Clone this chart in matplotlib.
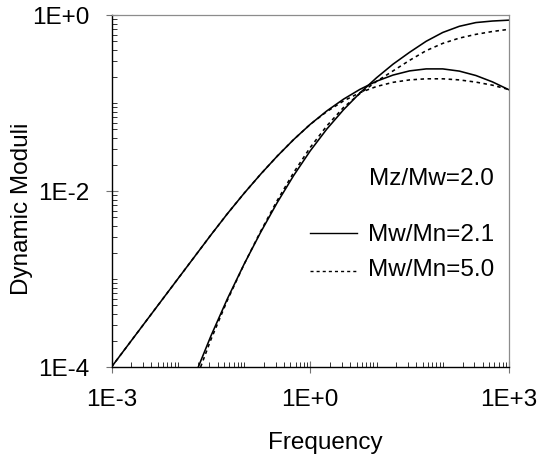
import numpy as np
import matplotlib
matplotlib.use("Agg")
import matplotlib.pyplot as plt
from matplotlib.ticker import LogLocator, FixedLocator, NullFormatter

plt.rcParams['font.family'] = ['Liberation Sans', 'DejaVu Sans']

# ---- data (log10 of frequency / modulus) ----
loss_narrow_logw = [-3.0, -2.5, -2.0, -1.75, -1.5, -1.25, -1.0, -0.75, -0.5, -0.25, 0.0, 0.25, 0.5,
                    0.75, 1.0, 1.25, 1.5, 1.75, 2.0, 2.25, 2.5, 2.75, 3.0]
loss_narrow_logG = [-4.0, -3.5, -3.0, -2.75, -2.5, -2.2575, -2.0275, -1.81, -1.605, -1.415, -1.2425,
                    -1.09, -0.9575, -0.845, -0.7525, -0.6825, -0.635, -0.6125, -0.6125, -0.6375,
                    -0.6875, -0.76, -0.85]

loss_broad_logw = [-3.0, -2.5, -2.0, -1.75, -1.5, -1.25, -1.0, -0.75, -0.5, -0.25, 0.0, 0.25, 0.5,
                   0.75, 1.0, 1.25, 1.5, 1.75, 2.0, 2.25, 2.5, 2.75, 3.0]
loss_broad_logG = [-4.0, -3.5, -3.0, -2.75, -2.5, -2.2575, -2.0275, -1.81, -1.605, -1.415, -1.2425,
                   -1.0975, -0.9775, -0.8825, -0.8125, -0.765, -0.7375, -0.725, -0.725, -0.7375,
                   -0.7625, -0.7975, -0.8475]

stor_narrow_logw = [-1.69, -1.5, -1.25, -1.0, -0.75, -0.5, -0.25, 0.0, 0.25, 0.5, 0.75, 1.0,
                    1.25, 1.5, 1.75, 2.0, 2.25, 2.5, 2.75, 3.0]
stor_narrow_logG = [-4.0, -3.6485, -3.2235, -2.8335, -2.471, -2.1335, -1.8235, -1.5435, -1.296,
                    -1.0785, -0.886, -0.7135, -0.5585, -0.4235, -0.2985, -0.1985, -0.1285, -0.086,
                    -0.0685, -0.0585]

stor_broad_logw = [-1.655, -1.5, -1.25, -1.0, -0.75, -0.5, -0.25, 0.0, 0.25, 0.5, 0.75, 1.0,
                   1.25, 1.5, 1.75, 2.0, 2.25, 2.5, 2.75, 3.0]
stor_broad_logG = [-4.0, -3.69, -3.24, -2.835, -2.46, -2.11, -1.79, -1.505, -1.26, -1.0525, -0.8925,
                   -0.755, -0.635, -0.515, -0.405, -0.3225, -0.2625, -0.22, -0.1875, -0.1625]

x_ticks = [1e-3, 1e0, 1e3]
x_ticklabels = ['1E-3', '1E+0', '1E+3']
y_ticks = [1e-4, 1e-2, 1e0]
y_ticklabels = ['1E-4', '1E-2', '1E+0']

header_text = 'Mz/Mw=2.0'
series_labels = ['Mw/Mn=2.1', 'Mw/Mn=5.0']

# ---- figure ----
W, H = 541, 466
fig = plt.figure(figsize=(W / 100, H / 100), dpi=100)
L, R, T, B = 111.5, 509, 15, 367
ax = fig.add_axes([L / W, 1 - B / H, (R - L) / W, (B - T) / H])

lw = 1.15
dash = (0, (2.2, 2.2))
ax.plot(10 ** np.array(loss_narrow_logw), 10 ** np.array(loss_narrow_logG), color='black', lw=lw)
ax.plot(10 ** np.array(stor_narrow_logw), 10 ** np.array(stor_narrow_logG), color='black', lw=lw)
ax.plot(10 ** np.array(loss_broad_logw), 10 ** np.array(loss_broad_logG), color='black', lw=lw,
        linestyle=dash)
ax.plot(10 ** np.array(stor_broad_logw), 10 ** np.array(stor_broad_logG), color='black', lw=lw,
        linestyle=dash)

ax.set_xscale('log')
ax.set_yscale('log')
ax.set_xlim(1e-3, 1e3)
ax.set_ylim(1e-4, 1e0)

fs = 17.5
ax.xaxis.set_major_locator(FixedLocator(x_ticks))
ax.set_xticklabels(x_ticklabels)
ax.yaxis.set_major_locator(FixedLocator(y_ticks))
ax.set_yticklabels(y_ticklabels)
ax.xaxis.set_minor_locator(LogLocator(base=10, subs=np.arange(1, 10), numticks=50))
ax.yaxis.set_minor_locator(LogLocator(base=10, subs=np.arange(1, 10), numticks=50))
ax.xaxis.set_minor_formatter(NullFormatter())
ax.yaxis.set_minor_formatter(NullFormatter())

ax.tick_params(which='major', direction='inout', length=9, width=0.8, color='0.45',
               labelsize=fs, pad=11.5, top=False, right=False)
ax.tick_params(which='minor', direction='in', length=3.5, width=0.7, color='0.2',
               top=False, right=False)

for s in ['left', 'bottom']:
    ax.spines[s].set_color('black')
    ax.spines[s].set_linewidth(1.0)
for s in ['top', 'right']:
    ax.spines[s].set_color('0.55')
    ax.spines[s].set_linewidth(0.9)

# annotation / key
def axx(px):
    return (px - L) / (R - L)

def axy(py):
    return (B - py) / (B - T)

ax.text(axx(494), axy(179), header_text, transform=ax.transAxes, ha='right', va='center', fontsize=fs)
ax.plot([axx(310), axx(357)], [axy(233), axy(233)], transform=ax.transAxes, color='black', lw=1.0,
        clip_on=False)
ax.text(axx(494), axy(235), series_labels[0], transform=ax.transAxes, ha='right', va='center', fontsize=fs)
ax.plot([axx(310), axx(356)], [axy(271), axy(271)], transform=ax.transAxes, color='black', lw=1.0,
        linestyle=dash, clip_on=False)
ax.text(axx(494), axy(270), series_labels[1], transform=ax.transAxes, ha='right', va='center', fontsize=fs)

fig.text(325 / W, 1 - 443 / H, 'Frequency', ha='center', va='center', fontsize=fs)
fig.text(22 / W, 1 - 209 / H, 'Dynamic Moduli', ha='center', va='center', rotation=90, fontsize=fs)

fig.savefig('out.png', dpi=100)
